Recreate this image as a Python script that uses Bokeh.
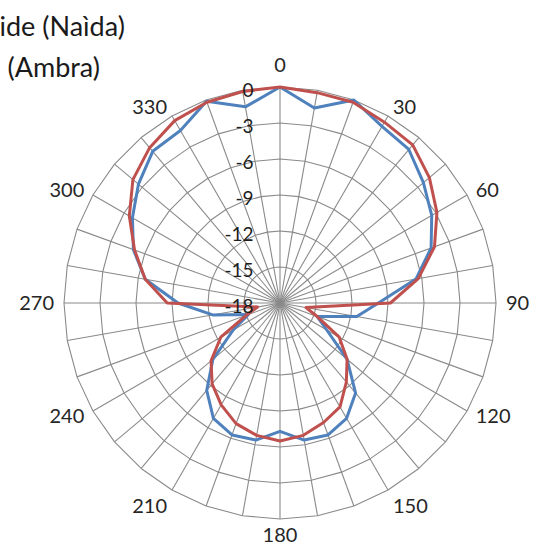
import numpy as np
from bokeh.plotting import figure
from bokeh.models import Range1d, ColumnDataSource
from bokeh.embed import file_html
from bokeh.resources import INLINE
from bokeh.core.properties import value

# ---------------- data ----------------
angles = list(range(0, 360, 10))
# series 1 (blue)
naida = [0, -1.5, 0, -1.0, -1.3, -2.4, -3.4, -4.6, -6.5, -9.8,
         -11.5, -14.7, -13.5, -10.7, -8.2, -6.9, -6.3, -6.4, -7.3, -6.4,
         -6.3, -6.9, -8.5, -10.7, -13.5, -15.2, -12.3, -9.5, -6.6, -5.0,
         -3.8, -2.6, -1.5, -1.4, -0.1, -1.4]
# series 2 (red)
ambra = [0, -0.2, -0.2, -0.6, -0.8, -1.75, -2.9, -4.3, -6.3, -8.8,
         -15.8, -14.7, -12.3, -10.7, -9.4, -8.0, -7.4, -6.8, -6.5, -6.8,
         -7.3, -8.2, -9.2, -10.5, -12.3, -15.0, -16.1, -8.6, -6.6, -5.1,
         -3.5, -2.0, -1.1, -0.45, -0.2, -0.1]
ring_levels = [0, -3, -6, -9, -12, -15, -18]
angle_label_values = [0, 30, 60, 90, 120, 150, 180, 210, 240, 270, 300, 330]
legend_labels = ["ide (Naìda)", "(Ambra)"]

R_MIN, R_MAX = -18.0, 0.0
R_PX = 216.0  # outer radius in px units

W, H = 531, 546
CX, CY = 279.5, 302.5  # centre, canvas px from left / top

FONT = "Lato"

def rad(v):
    return (np.clip(np.asarray(v, float), R_MIN, R_MAX) - R_MIN) / (R_MAX - R_MIN) * R_PX

def polar_xy(vals, angs):
    r = rad(vals)
    t = np.radians(np.asarray(angs, float))
    return r * np.sin(t), r * np.cos(t)

p = figure(width=W, height=H, output_backend="svg", toolbar_location=None,
           x_range=Range1d(-CX, W - CX), y_range=Range1d(-(H - CY), CY),
           min_border=0)
p.axis.visible = False
p.grid.visible = False
p.outline_line_color = None
p.background_fill_color = "white"

grid_col = "#8a8a8a"
# rings (polygonal, one side per category)
ring_angles = angles + [angles[0]]
for lv in ring_levels[:-1]:
    xs, ys = polar_xy([lv] * len(ring_angles), ring_angles)
    p.line(xs, ys, line_color=grid_col, line_width=1.1)
# spokes
sx0, sy0 = polar_xy([R_MIN] * len(angles), angles)
sx1, sy1 = polar_xy([R_MAX] * len(angles), angles)
p.segment(sx0, sy0, sx1, sy1, line_color=grid_col, line_width=1.1)

# series
for vals, col in ((naida, "#4F81BD"), (ambra, "#C0504D")):
    xs, ys = polar_xy(list(vals) + [vals[0]], angles + [angles[0]])
    p.line(xs, ys, line_color=col, line_width=3, line_join="round")

# radial value labels
ry = rad(ring_levels)
p.text(x=[-26.5] * len(ring_levels), y=list(ry - 2.5),
       text=[str(v) for v in ring_levels],
       text_align="right", text_baseline="middle",
       text_font=value(FONT), text_font_size="19px", text_color="#1e1e1e")

# angle labels
lx, ly, la, lb = [], [], [], []
for a in angle_label_values:
    t = np.radians(a)
    s, c = np.sin(t), np.cos(t)
    if abs(s) < 0.01:
        r = 231 if c > 0 else 225
        lx.append(0.0); ly.append(r * c)
        la.append("center"); lb.append("bottom" if c > 0 else "top")
    else:
        r = 226
        lx.append(r * s); ly.append(r * c)
        la.append("left" if s > 0 else "right")
        lb.append("top" if c < -0.6 else "middle")
src = ColumnDataSource(dict(x=lx, y=ly, t=[str(a) for a in angle_label_values],
                            a=la, b=lb))
p.text(x="x", y="y", text="t", text_align="a", text_baseline="b", source=src,
       text_font=value(FONT), text_font_size="20px", text_color="#262626")

# legend text (legend is cropped at the left edge in the reference)
p.text(x=[-CX - 1, -CX + 7], y=[CY - 25, CY - 66], text=legend_labels,
       text_align="left", text_baseline="middle",
       text_font=value(FONT), text_font_size="27px", text_color="#1a1a1a")

open("out.html", "w").write(file_html(p, INLINE))
